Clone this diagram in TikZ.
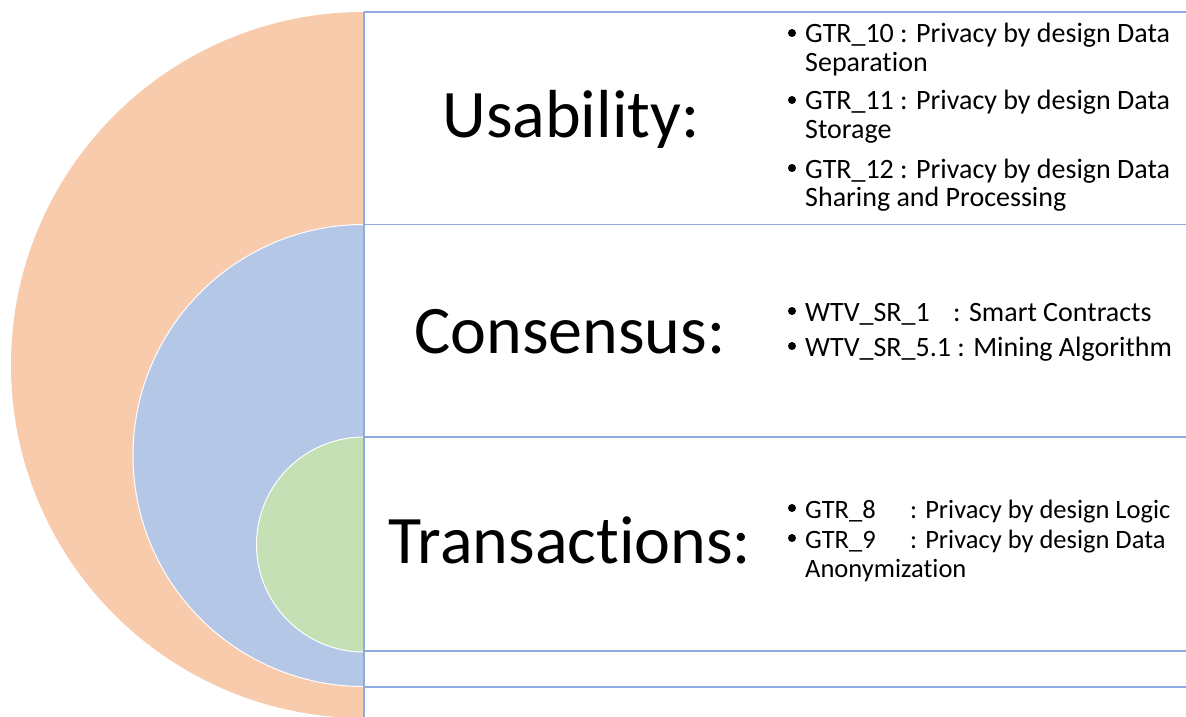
\documentclass[tikz,border=0pt]{standalone}
\usepackage{fontspec}
\setmainfont{Carlito}[Ligatures=NoCommon]
\definecolor{ringorange}{HTML}{F8CBAD}
\definecolor{ringblue}{HTML}{B4C7E7}
\definecolor{ringgreen}{HTML}{C5E0B4}
\definecolor{gridline}{HTML}{8FAADC}
\tikzset{
  heading/.style={font=\fontsize{68}{80}\selectfont, anchor=base, inner sep=0pt},
  itemtext/.style={font=\fontsize{28}{34}\selectfont, anchor=base west, inner sep=0pt},
  smallitem/.style={itemtext, font=\fontsize{26.5}{32}\selectfont},
  itemdot/.style={circle, fill=black, inner sep=0pt, minimum size=8pt},
  rowrule/.style={draw=gridline, line width=1.5},
  ring/.style={draw=white, line width=1}
}
\begin{document}
\begin{tikzpicture}[x=1pt,y=-1pt]
  \clip (0,0) rectangle (1186,717);
  \fill[white] (0,0) rectangle (1186,717);

  % nested half discs
  \fill[ringorange] (364,12) arc[start angle=270, end angle=90, radius=353] -- cycle;
  \filldraw[ring, fill=ringblue] (364,224.5) arc[start angle=270, end angle=90, radius=231] -- cycle;
  \filldraw[ring, fill=ringgreen] (364,437) arc[start angle=270, end angle=90, radius=107.5] -- cycle;

  % table rules
  \draw[rowrule] (364,12) -- (364,717);
  \draw[rowrule] (364,12) -- (1186,12);
  \draw[rowrule] (364,224.5) -- (1186,224.5);
  \draw[rowrule] (364,437) -- (1186,437);
  \draw[rowrule] (364,651) -- (1186,651);
  \draw[rowrule] (364,687) -- (1186,687);

  % headings
  \node[heading] (usab) at (571,137) {Usability:};
  \node[heading] (cons) at (570,353) {Consensus:};
  \node[heading] (trans) at (570,563) {Transactions:};

  % usability items
  \node[itemdot] (ub1) at (792,33) {};
  \node[itemtext] (u1a) at (805,43) {GTR\_10 : Privacy by design Data};
  \node[itemtext] (u1b) at (805,72) {Separation};
  \node[itemdot] (ub2) at (792,100) {};
  \node[itemtext] (u2a) at (805,110) {GTR\_11 : Privacy by design Data};
  \node[itemtext] (u2b) at (805,138) {Storage};
  \node[itemdot] (ub3) at (792,168) {};
  \node[itemtext] (u3a) at (805,178) {GTR\_12 : Privacy by design Data};
  \node[itemtext] (u3b) at (805,206) {Sharing and Processing};

  % consensus items
  \node[itemdot] (cb1) at (792,311) {};
  \node[itemtext] (c1) at (805,321) {\makebox[148pt][l]{WTV\_SR\_1}: Smart Contracts};
  \node[itemdot] (cb2) at (792,346) {};
  \node[itemtext] (c2) at (805,356) {WTV\_SR\_5.1 : Mining Algorithm};

  % transaction items
  \node[itemdot] (tb1) at (792,508) {};
  \node[smallitem] (t1) at (805,518) {\makebox[105pt][l]{GTR\_8}: Privacy by design Logic};
  \node[itemdot] (tb2) at (792,538) {};
  \node[smallitem] (t2a) at (805,548) {\makebox[105pt][l]{GTR\_9}: Privacy by design Data};
  \node[smallitem] (t2b) at (805,577) {Anonymization};
\end{tikzpicture}
\end{document}
